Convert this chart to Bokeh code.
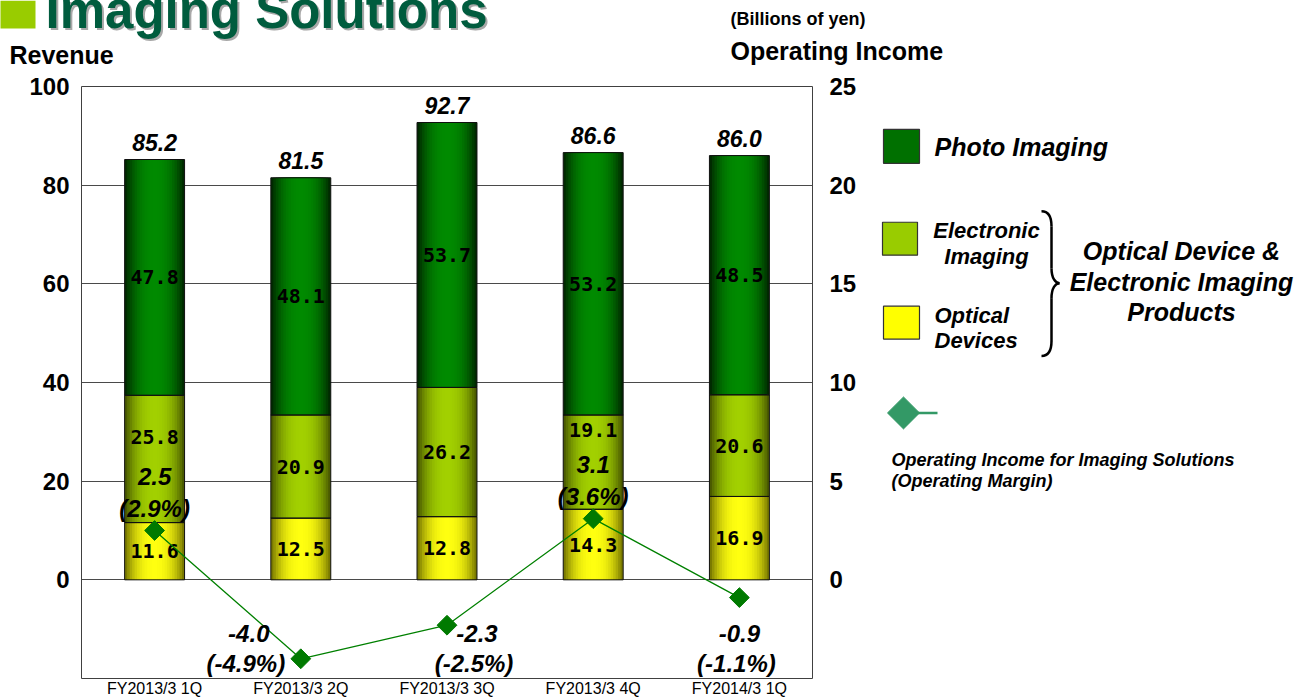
import math
from bokeh.plotting import figure
from bokeh.models import FactorRange, Range1d, LinearAxis, FixedTicker
from bokeh.core.properties import value
from bokeh.embed import file_html
from bokeh.resources import INLINE

# ---------------- data ----------------
cats = ["FY2013/3 1Q", "FY2013/3 2Q", "FY2013/3 3Q", "FY2013/3 4Q", "FY2014/3 1Q"]
optical = [11.6, 12.5, 12.8, 14.3, 16.9]
electronic = [25.8, 20.9, 26.2, 19.1, 20.6]
photo = [47.8, 48.1, 53.7, 53.2, 48.5]
totals = [85.2, 81.5, 92.7, 86.6, 86.0]
op_income = [2.5, -4.0, -2.3, 3.1, -0.9]
op_margin = [2.9, -4.9, -2.5, 3.6, -1.1]
rev_ticks = [0, 20, 40, 60, 80, 100]
oi_ticks = [0, 5, 10, 15, 20, 25]

# ---------------- styles ----------------
FONT = value("Liberation Sans")
MONO = value("DejaVu Sans Mono")
ele_label_dy = [-22, 0, 0, -32, 0]      # label nudges where the income label sits
neg_label_dx = [0, -52, 30, 0, 0]

W, H = 1309, 699
FX0, FX1, FY0, FY1 = 81, 812, 86, 679   # frame box on the page
p = figure(x_range=FactorRange(factors=cats), y_range=Range1d(-20, 100),
           width=W, height=H, output_backend="svg", toolbar_location=None,
           title=None,
           min_border_left=FX0, min_border_right=W - FX1, min_border_top=FY0,
           min_border_bottom=H - FY1)
p.extra_y_ranges = {"oi": Range1d(-5, 25), "py": Range1d(FY1, FY0)}
p.background_fill_color = "white"
p.border_fill_color = "white"
p.outline_line_color = "#404040"
p.outline_line_width = 1
p.xgrid.visible = False
p.ygrid.ticker = FixedTicker(ticks=rev_ticks)
p.ygrid.grid_line_color = "#4a4a4a"
p.ygrid.grid_line_width = 1

def style_axis(ax, standoff, size):
    ax.axis_line_color = None
    ax.major_tick_line_color = None
    ax.minor_tick_line_color = None
    ax.major_tick_out = 0
    ax.major_tick_in = 0
    ax.major_label_standoff = standoff
    ax.major_label_text_font = "Liberation Sans"
    ax.major_label_text_font_size = size
    ax.major_label_text_color = "black"

yax = p.yaxis[0]
yax.ticker = FixedTicker(ticks=rev_ticks)
style_axis(yax, 12, "24px")
yax.major_label_text_font_style = "bold"

rax = LinearAxis(y_range_name="oi", ticker=FixedTicker(ticks=oi_ticks))
style_axis(rax, 17, "24px")
rax.major_label_text_font_style = "bold"
p.add_layout(rax, "right")

xax = p.xaxis[0]
style_axis(xax, 1, "16px")
xax.major_label_text_font_style = "normal"

# ---------------- stacked bars with horizontal shading ----------------
t_opt = optical
b_ele = optical
t_ele = [a + b for a, b in zip(optical, electronic)]
b_pho = t_ele
t_pho = [a + b for a, b in zip(t_ele, photo)]
b_opt = [0] * len(cats)

def hex2rgb(h):
    return tuple(int(h[i:i + 2], 16) for i in (1, 3, 5))

def mix(c1, c2, t):
    a, b = hex2rgb(c1), hex2rgb(c2)
    return "#%02x%02x%02x" % tuple(round(a[i] + (b[i] - a[i]) * t) for i in range(3))

segments = [
    (b_opt, t_opt, "#ffff10", "#7a7a00"),
    (b_ele, t_ele, "#a2d000", "#4a5a00"),
    (b_pho, t_pho, "#008a00", "#002a00"),
]
BW = 0.41
N = 12
for k in range(N):
    d = 1 - k / N
    for b, t, c_center, c_edge in segments:
        p.vbar(x=cats, bottom=b, top=t, width=BW * d,
               fill_color=mix(c_center, c_edge, d ** 2.5), line_color=None)
for b, t, _, _ in segments:
    p.vbar(x=cats, bottom=b, top=t, width=BW, fill_color=None,
           line_color="#101010", line_width=1)

# segment labels
def seg_labels(b, t, vals, dy=None):
    p.text(x=cats, y=[(x + y) / 2 for x, y in zip(b, t)],
           text=[f"{v:.1f}" for v in vals], y_offset=dy if dy else 0,
           text_font=MONO, text_font_style="bold", text_font_size="20px",
           text_align="center", text_baseline="middle", text_color="black")

seg_labels(b_opt, t_opt, optical)
seg_labels(b_ele, t_ele, electronic, ele_label_dy)
seg_labels(b_pho, t_pho, photo)

# totals
p.text(x=cats, y=totals, text=[f"{v:.1f}" for v in totals], y_offset=-17,
       text_font=FONT, text_font_style="bold italic", text_font_size="23px",
       text_align="center", text_baseline="middle", text_color="black")

# ---------------- operating income line ----------------
p.line(x=cats, y=op_income, y_range_name="oi", line_color="#008000", line_width=1.3)
p.scatter(x=cats, y=op_income, y_range_name="oi", marker="square", angle=math.pi / 4,
          size=14, fill_color="#007a00", line_color="#007a00")

pos = [i for i, v in enumerate(op_income) if v >= 0]
neg = [i for i, v in enumerate(op_income) if v < 0]
lbl = dict(text_font=FONT, text_font_style="bold italic", text_font_size="24px",
           text_align="center", text_baseline="middle", text_color="black")
p.text(x=[cats[i] for i in pos], y=[op_income[i] for i in pos], y_range_name="oi",
       text=[f"{op_income[i]:.1f}" for i in pos], y_offset=-54, **lbl)
p.text(x=[cats[i] for i in pos], y=[op_income[i] for i in pos], y_range_name="oi",
       text=[f"({op_margin[i]:.1f}%)" for i in pos], y_offset=-22, **lbl)
p.text(x=[cats[i] for i in neg], y=[634] * len(neg), y_range_name="py",
       x_offset=[neg_label_dx[i] for i in neg],
       text=[f"{op_income[i]:.1f}" for i in neg], **lbl)
p.text(x=[cats[i] for i in neg], y=[664] * len(neg), y_range_name="py",
       x_offset=[neg_label_dx[i] - 3 for i in neg],
       text=[f"({op_margin[i]:.1f}%)" for i in neg], **lbl)

# ---------------- decorations (page coordinates) ----------------
SLOT = (FX1 - FX0) / len(cats)

def sx(v):
    """page x -> synthetic categorical coordinate"""
    if isinstance(v, (list, tuple)):
        return [sx(u) for u in v]
    return (v - FX0) / SLOT

OV = dict(y_range_name="py", level="overlay")

def deco_text(x, y, txt, size, style="bold", align="left", color="black"):
    """y is the vertical centre of the capitals on the page"""
    p.text(x=[sx(x)], y=[y], text=[txt], text_font=FONT, text_font_size=f"{size}px",
           text_font_style=style, text_align=align, text_baseline="middle",
           text_color=color, **OV)

# title
p.quad(left=sx([0]), right=sx([35]), top=[0], bottom=[28], fill_color="#99cc00",
       line_color=None, **OV)
deco_text(47, 12, "Imaging Solutions", 51, color="#a8a8a8")
deco_text(45, 10, "Imaging Solutions", 51, color="#005c3e")

deco_text(9, 54, "Revenue", 25)
deco_text(730, 18, "(Billions of yen)", 18)
deco_text(730, 50, "Operating Income", 25)

# legend swatches
p.quad(left=sx([883, 882, 883]), right=sx([919, 917, 919]), top=[129, 222, 306],
       bottom=[163, 255, 339], fill_color=["#007000", "#99cc00", "#ffff00"],
       line_color="#333333", line_width=1.2, **OV)
deco_text(934, 147, "Photo Imaging", 25, style="bold italic")
deco_text(986, 230, "Electronic", 22, style="bold italic", align="center")
deco_text(986, 256, "Imaging", 22, style="bold italic", align="center")
deco_text(934, 315, "Optical", 22, style="bold italic")
deco_text(934, 340, "Devices", 22, style="bold italic")

# brace
p.bezier(x0=sx([1041, 1051, 1059, 1051]), y0=[211, 268, 283, 341],
         x1=sx([1051, 1059, 1051, 1041]), y1=[226, 283, 298, 356],
         cx0=sx([1048, 1051, 1055, 1051]), cy0=[211, 278, 283, 350],
         cx1=sx([1051, 1055, 1051, 1048]), cy1=[217, 283, 288, 356],
         line_color="black", line_width=2.5, **OV)
p.segment(x0=sx([1051, 1051]), y0=[226, 298], x1=sx([1051, 1051]), y1=[268, 341],
          line_color="black", line_width=2.5, **OV)

deco_text(1181, 251, "Optical Device &", 25, style="bold italic", align="center")
deco_text(1181, 282, "Electronic Imaging", 25, style="bold italic", align="center")
deco_text(1181, 312, "Products", 25, style="bold italic", align="center")

# operating income legend
p.segment(x0=sx([903]), y0=[413], x1=sx([937]), y1=[413], line_color="#339966",
          line_width=2.5, **OV)
p.patch(x=sx([887, 903, 919, 903]), y=[413, 397, 413, 429],
        fill_color="#339966", line_color="#339966", **OV)
deco_text(891, 460, "Operating Income for Imaging Solutions", 18, style="bold italic")
deco_text(891, 481, "(Operating Margin)", 18, style="bold italic")

open("out.html", "w").write(file_html(p, INLINE))
